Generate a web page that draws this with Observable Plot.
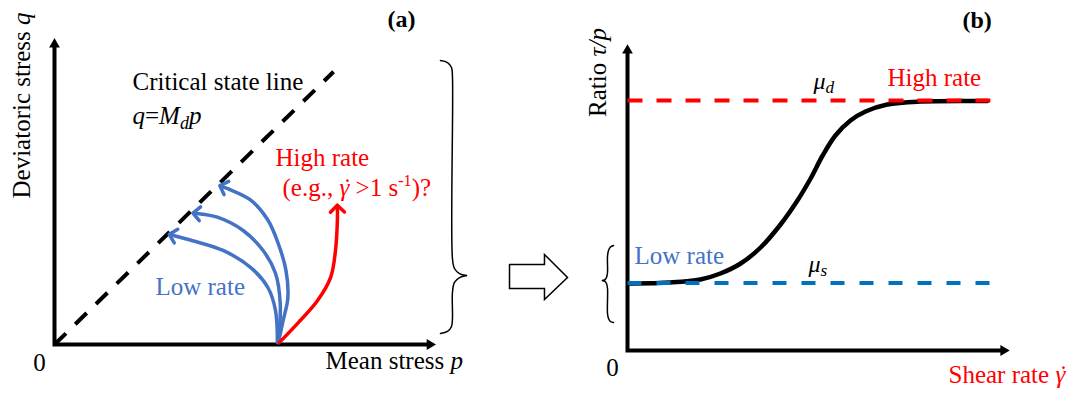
<!DOCTYPE html>
<html>
<head>
<meta charset="utf-8">
<script src="https://cdn.jsdelivr.net/npm/d3@7"></script>
<script src="https://cdn.jsdelivr.net/npm/@observablehq/plot@0.6"></script>
<style>
  html, body { margin: 0; padding: 0; background: #fff; }
  #figure { display: flex; width: 1067px; height: 393px; }
  #figure svg { display: block; flex: none; }
</style>
</head>
<body>
<div id="figure"></div>
<script>
// ---------- Panel (a): stress paths in the p–q plane ----------
const cslSlope = 0.98;          // M_d
const cslMaxP = 2.93;           // extent of the dashed critical state line
const pAxisMax = 3.94, qAxisMax = 3.16;

// Stress paths (p, q) at low shearing rate, each ending on the critical state line
const lowRatePath1 = [[2.35,0.02],[2.40,0.25],[2.45,0.49],[2.43,0.78],[2.35,1.06],[2.24,1.31],[2.06,1.52],[1.82,1.64],[1.77,1.66]];
const lowRatePath2 = [[2.35,0.02],[2.37,0.43],[2.32,0.75],[2.19,0.99],[1.98,1.20],[1.71,1.34],[1.49,1.38]];
const lowRatePath3 = [[2.34,0.02],[2.32,0.36],[2.24,0.60],[2.06,0.81],[1.77,0.99],[1.46,1.09],[1.24,1.15]];
// Stress path at high shearing rate
const highRatePath = [[2.36,0.02],[2.55,0.22],[2.76,0.46],[2.90,0.71],[2.95,0.99],[2.97,1.31],[2.97,1.43]];

// Curly brace grouping the p–q diagram (two halves meeting at the tip)
const braceTopA = [[4.052,2.989],[4.126,2.968],[4.168,2.916],[4.178,2.821],[4.178,0.905],[4.199,0.800],[4.252,0.747],[4.325,0.726]];
const braceBottomA = [[4.325,0.726],[4.252,0.705],[4.199,0.653],[4.178,0.547],[4.178,0.274],[4.168,0.189],[4.126,0.137],[4.052,0.116]];
// Hollow block arrow leading to panel (b)
const blockArrow = [[4.777,0.842],[5.144,0.842],[5.144,0.947],[5.386,0.705],[5.144,0.474],[5.144,0.589],[4.777,0.589],[4.777,0.842]];

// ---------- Panel (b): friction ratio versus shear rate ----------
const muS = 0.27, muD = 1.0;    // static and dynamic friction ratios
const rateLineMax = 9.65;       // extent of the dashed reference levels
const rateAxisMax = 10, ratioAxisMax = 1.2;
const frictionCurve = [[0.08,0.268],[1.14,0.272],[1.94,0.284],[2.47,0.308],[3.01,0.348],[3.54,0.412],[4.07,0.504],[4.52,0.600],[4.87,0.688],[5.19,0.780],[5.53,0.860],[5.93,0.920],[6.33,0.956],[6.91,0.984],[7.79,0.996],[9.57,0.998]];
const braceTopB = [[-0.372,0.420],[-0.452,0.414],[-0.505,0.400],[-0.532,0.376],[-0.532,0.312],[-0.559,0.292],[-0.612,0.282],[-0.665,0.280]];
const braceBottomB = [[-0.665,0.280],[-0.612,0.278],[-0.559,0.268],[-0.532,0.248],[-0.532,0.148],[-0.505,0.128],[-0.452,0.116],[-0.372,0.112]];

// ---------- Labels (anchored at text baseline, in data units) ----------
const labelsA = {
  csl:     {text: "Critical state line", x: 0.819, y: 2.674},
  cslEq:   {text: "q=Mdp", x: 0.819, y: 2.326},
  high:    {text: "High rate", x: 2.320, y: 1.884},
  highEg:  {text: "(e.g., \u03B3\u02D9 >1 s-1)?", x: 2.394, y: 1.568},
  low:     {text: "Low rate", x: 1.060, y: 0.526},
  xTitle:  {text: "Mean stress p", x: 2.845, y: -0.253},
  yTitle:  {text: "Deviatoric stress q", x: -0.252, y: 2.516},
  origin:  {text: "0", x: -0.157, y: -0.274},
  panel:   {text: "(a)", x: 3.496, y: 3.337}
};
const labelsB = {
  muD:     {text: "\u03BCd", x: 4.947, y: 1.048},
  muS:     {text: "\u03BCs", x: 4.814, y: 0.316},
  high:    {text: "High rate", x: 6.915, y: 1.060},
  low:     {text: "Low rate", x: 0.186, y: 0.348},
  xTitle:  {text: "Shear rate \u03B3\u02D9", x: 8.537, y: -0.128},
  yTitle:  {text: "Ratio \u03C4/p", x: -0.585, y: 1.112},
  origin:  {text: "0", x: -0.40, y: -0.10},
  panel:   {text: "(b)", x: 8.91, y: 1.292}
};

// Mixed italic / subscript / superscript runs; "dot" places an overdot on the previous run
const richText = {
  "Mean stress p": [["Mean stress "], ["p", "i"]],
  "Deviatoric stress q": [["Deviatoric stress "], ["q", "i"]],
  "q=Mdp": [["q", "i"], ["="], ["M", "i"], ["d", "i sub"], ["p", "i"]],
  "(e.g., \u03B3\u02D9 >1 s-1)?": [["(e.g., "], ["\u03B3", "i"], ["\u02D9", "i dot"], [" >1 s"], ["-1", "sup"], [")?"]],
  "Ratio \u03C4/p": [["Ratio "], ["\u03C4/p", "i"]],
  "Shear rate \u03B3\u02D9": [["Shear rate "], ["\u03B3", "i"], ["\u02D9", "i dot"]],
  "\u03BCd": [["\u03BC", "i"], ["d", "i sub"]],
  "\u03BCs": [["\u03BC", "i"], ["s", "i sub"]]
};

const RED = "#FF0000", BLUE_TEXT = "#4472C4", BLUE_LINE = "#0070C0";
const SERIF = "'Liberation Serif', 'Times New Roman', serif";

const pts = (arr) => arr.map(([x, y]) => ({x, y}));
const halves = (top, bottom) => [...pts(top).map(d => ({...d, z: 0})), ...pts(bottom).map(d => ({...d, z: 1}))];

function label(d, opts = {}) {
  return Plot.text([d], {
    x: "x", y: "y", text: "text",
    fontFamily: SERIF, fontSize: 25,
    textAnchor: "start", lineAnchor: "bottom",
    fill: "black",
    ...opts
  });
}

function axes(xMax, yMax) {
  return [
    Plot.line(pts([[0, yMax], [0, 0], [xMax, 0]]), {
      x: "x", y: "y", stroke: "black", strokeWidth: 4,
      strokeLinejoin: "miter", strokeLinecap: "butt", strokeMiterlimit: 4
    }),
    Plot.dot(pts([[0, yMax]]), {x: "x", y: "y", symbol: "triangle", r: 4, fill: "black", stroke: "none"}),
    Plot.dot(pts([[xMax, 0]]), {x: "x", y: "y", symbol: "triangle", r: 4, fill: "black", stroke: "none", rotate: 90})
  ];
}

const stressPath = (path, color) => Plot.line(pts(path), {
  x: "x", y: "y", curve: "catmull-rom",
  stroke: color, strokeWidth: 3.5, markerEnd: "arrow"
});

// ---------- Panel (a) ----------
const plotA = Plot.plot({
  width: 580, height: 393,
  marginLeft: 54, marginRight: 145, marginTop: 40, marginBottom: 49,
  x: {domain: [0, 4], axis: null},
  y: {domain: [0, 3.2], axis: null},
  style: {background: "white"},
  marks: [
    Plot.line(pts([[0, 0], [cslMaxP, cslSlope * cslMaxP]]), {
      x: "x", y: "y", stroke: "black", strokeWidth: 4, strokeDasharray: "16,13", strokeLinecap: "butt"
    }),
    ...axes(pAxisMax, qAxisMax),
    stressPath(lowRatePath3, BLUE_TEXT),
    stressPath(lowRatePath2, BLUE_TEXT),
    stressPath(lowRatePath1, BLUE_TEXT),
    stressPath(highRatePath, RED),
    Plot.line(halves(braceTopA, braceBottomA), {
      x: "x", y: "y", z: "z", curve: "catmull-rom", stroke: "black", strokeWidth: 1.5
    }),
    Plot.line(pts(blockArrow), {
      x: "x", y: "y", stroke: "black", fill: "white", strokeWidth: 1.5,
      strokeLinejoin: "miter", strokeMiterlimit: 10
    }),
    label(labelsA.csl),
    label(labelsA.cslEq),
    label(labelsA.high, {fill: RED}),
    label(labelsA.highEg, {fill: RED}),
    label(labelsA.low, {fill: BLUE_TEXT}),
    label(labelsA.xTitle),
    label(labelsA.yTitle, {rotate: -90, textAnchor: "middle"}),
    label(labelsA.origin, {textAnchor: "middle"}),
    label(labelsA.panel, {fontWeight: "bold", fontSize: 24})
  ]
});

// ---------- Panel (b) ----------
const plotB = Plot.plot({
  width: 487, height: 393,
  marginLeft: 47, marginRight: 64, marginTop: 50, marginBottom: 43,
  x: {domain: [0, rateAxisMax], axis: null},
  y: {domain: [0, ratioAxisMax], axis: null},
  style: {background: "white"},
  marks: [
    ...axes(rateAxisMax, ratioAxisMax),
    Plot.line(pts(frictionCurve), {
      x: "x", y: "y", curve: "catmull-rom", stroke: "black", strokeWidth: 4.5
    }),
    Plot.line(pts([[0, muD], [rateLineMax, muD]]), {
      x: "x", y: "y", stroke: RED, strokeWidth: 4, strokeDasharray: "15,14", strokeLinecap: "butt"
    }),
    Plot.line(pts([[0, muS], [rateLineMax, muS]]), {
      x: "x", y: "y", stroke: BLUE_LINE, strokeWidth: 4, strokeDasharray: "14,15", strokeLinecap: "butt"
    }),
    Plot.line(halves(braceTopB, braceBottomB), {
      x: "x", y: "y", z: "z", curve: "catmull-rom", stroke: "black", strokeWidth: 1.5
    }),
    label(labelsB.muD, {fontSize: 24}),
    label(labelsB.muS, {fontSize: 24}),
    label(labelsB.high, {fill: RED}),
    label(labelsB.low, {fill: BLUE_TEXT}),
    label(labelsB.xTitle, {fill: RED}),
    label(labelsB.yTitle, {rotate: -90, textAnchor: "middle"}),
    label(labelsB.origin, {textAnchor: "middle"}),
    label(labelsB.panel, {fontWeight: "bold", fontSize: 24})
  ]
});

const figure = document.getElementById("figure");
figure.append(plotA, plotB);

// Split labels into italic / sub / superscript runs, and centre overdots on their letter
function applyRichText(svg) {
  d3.select(svg).selectAll("text").each(function () {
    const parts = richText[this.textContent];
    if (!parts) return;
    const size = parseFloat(getComputedStyle(this).fontSize);
    const el = d3.select(this).text(null);
    const spans = [];
    let shift = 0;
    for (const [str, style = ""] of parts) {
      const flags = style.split(" ");
      const t = el.append("tspan").text(str);
      if (flags.includes("i")) t.attr("font-style", "italic");
      let target = 0;
      if (flags.includes("sub")) { target = 0.2 * size; t.attr("font-size", 0.72 * size); }
      else if (flags.includes("sup")) { target = -0.38 * size; t.attr("font-size", 0.65 * size); }
      if (target !== shift) { t.attr("dy", target - shift); shift = target; }
      spans.push({node: t.node(), flags});
    }
    spans.forEach((s, i) => {
      if (!s.flags.includes("dot") || i === 0) return;
      const g = spans[i - 1].node.getComputedTextLength();
      const d = s.node.getComputedTextLength();
      const o = 0.06 * size;
      s.node.setAttribute("dx", -(g / 2 + d / 2) + o);
      if (spans[i + 1]) spans[i + 1].node.setAttribute("dx", g / 2 - d / 2 - o);
    });
  });
}
applyRichText(plotA);
applyRichText(plotB);
</script>
</body>
</html>
